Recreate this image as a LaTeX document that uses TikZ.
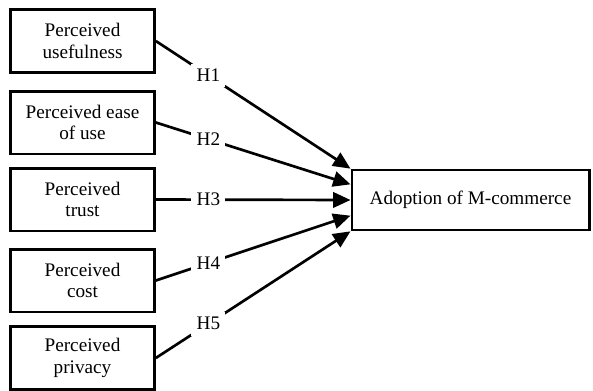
\documentclass[tikz,border=0pt]{standalone}
\usepackage{fontspec}
\setmainfont{Liberation Serif}
\usetikzlibrary{arrows.meta,calc}
\begin{document}
\begin{tikzpicture}[x=0.75pt,y=-0.75pt,line width=2pt,
  font=\fontsize{14.4pt}{16pt}\selectfont,
  factor/.style={draw,align=center,minimum width=108pt,minimum height=47pt,inner sep=2pt},
  hyp/.style={fill=white,inner sep=4pt,pos=0.27},
  >={Triangle[length=13pt,width=11.5pt]}]
\useasboundingbox (0,0) rectangle (593,390);
\node[factor] (pu) at (82.5,41) {Perceived\\usefulness};
\node[factor] (pe) at (82.5,122.5) {Perceived ease\\of use};
\node[factor] (pt) at (82.5,199.5) {Perceived\\trust};
\node[factor] (pc) at (82.5,280.5) {Perceived\\cost};
\node[factor] (pp) at (82.5,358) {Perceived\\privacy};
\node[draw,minimum width=178pt,minimum height=45pt] (am) at (470.5,200) {Adoption of M-commerce};
\draw[->] (pu.east) -- node[hyp] {H1} ($(am.north west)!0!(am.south west)$);
\draw[->] (pe.east) -- node[hyp] {H2} ($(am.north west)!0.25!(am.south west)$);
\draw[->] (pt.east) -- node[hyp] {H3} ($(am.north west)!0.5!(am.south west)$);
\draw[->] (pc.east) -- node[hyp] {H4} ($(am.north west)!0.75!(am.south west)$);
\draw[->] (pp.east) -- node[hyp] {H5} ($(am.north west)!1!(am.south west)$);
\end{tikzpicture}
\end{document}
